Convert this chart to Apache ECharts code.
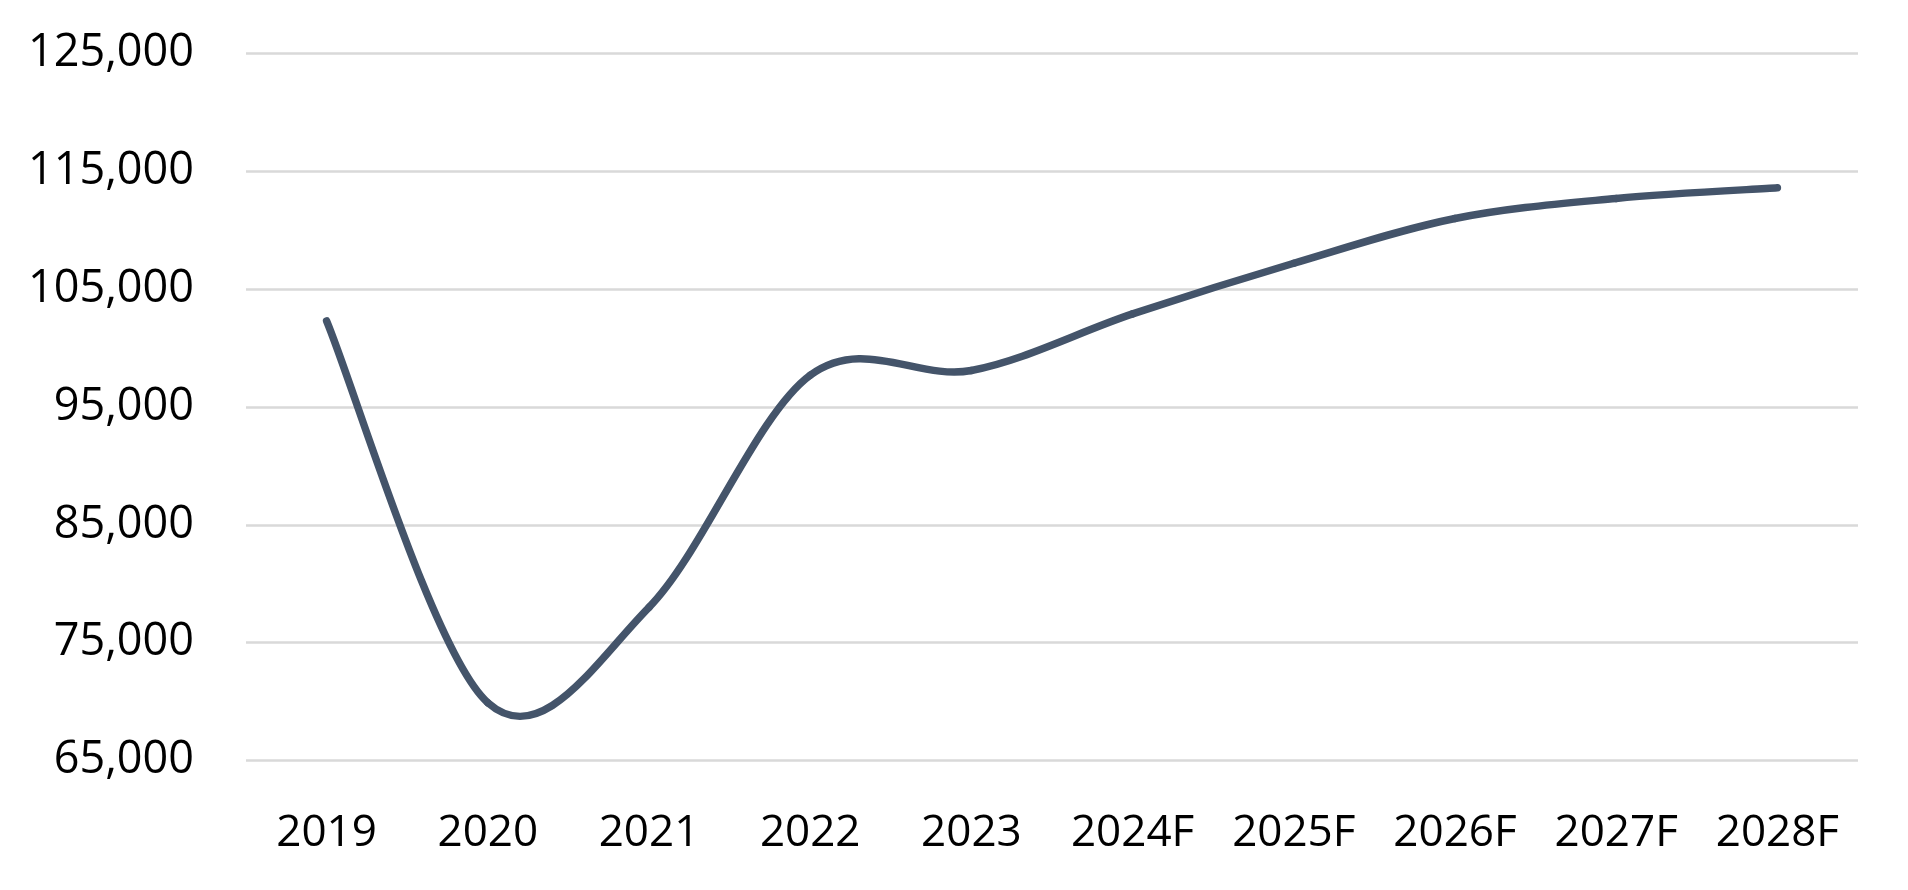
<!DOCTYPE html>
<html>
<head>
<meta charset="utf-8">
<script src="https://cdn.jsdelivr.net/npm/echarts@6/dist/echarts.min.js"></script>
<style>
html,body{margin:0;padding:0;background:#fff;}
#chart{width:1908px;height:890px;}
</style>
</head>
<body>
<div id="chart"></div>
<script>
var categories = ['2019','2020','2021','2022','2023','2024F','2025F','2026F','2027F','2028F'];
var values = [102300, 69900, 78000, 97700, 98100, 102900, 107200, 111000, 112700, 113600];
var yTicks = [65000, 75000, 85000, 95000, 105000, 115000, 125000];

var chart = echarts.init(document.getElementById('chart'), null, {renderer:'canvas'});
var n = values.length;
function clampIdx(k){ return Math.max(0, Math.min(n-1, k)); }

var option = {
  animation: false,
  backgroundColor: '#ffffff',
  grid: {left: 246, right: 50, top: 53.5, bottom: 129.5, containLabel: false},
  xAxis: {
    type: 'category',
    data: categories,
    boundaryGap: true,
    axisLine: {show: false},
    axisTick: {show: false},
    axisLabel: {
      color: '#000000',
      fontFamily: 'Open Sans',
      fontSize: 44,
      margin: 51,
      interval: 0,
      hideOverlap: false
    },
    splitLine: {show: false}
  },
  yAxis: {
    type: 'value',
    min: yTicks[0],
    max: yTicks[yTicks.length-1],
    interval: 10000,
    axisLine: {show: false},
    axisTick: {show: false},
    axisLabel: {
      color: '#000000',
      fontFamily: 'Open Sans',
      fontSize: 45,
      margin: 52,
      formatter: function(v){ return v.toLocaleString('en-US'); }
    },
    splitLine: {show: true, lineStyle: {color: '#D9D9D9', width: 2.5}}
  },
  series: [{
    type: 'custom',
    data: values.map(function(v,i){ return [i, v]; }),
    encode: {x: 0, y: 1},
    clip: false,
    renderItem: function(params, api){
      var i = params.dataIndex;
      if (i >= n - 1) return null;
      function P(k){ var kk = clampIdx(k); return api.coord([kk, values[kk]]); }
      var p0 = P(i-1), p1 = P(i), p2 = P(i+1), p3 = P(i+2);
      return {
        type: 'bezierCurve',
        shape: {
          x1: p1[0], y1: p1[1],
          x2: p2[0], y2: p2[1],
          cpx1: p1[0] + (p2[0]-p0[0])/6, cpy1: p1[1] + (p2[1]-p0[1])/6,
          cpx2: p2[0] - (p3[0]-p1[0])/6, cpy2: p2[1] - (p3[1]-p1[1])/6
        },
        style: {stroke: '#44546A', lineWidth: 7.5, fill: null, lineCap: 'round'}
      };
    }
  }]
};
chart.setOption(option);
</script>
</body>
</html>
